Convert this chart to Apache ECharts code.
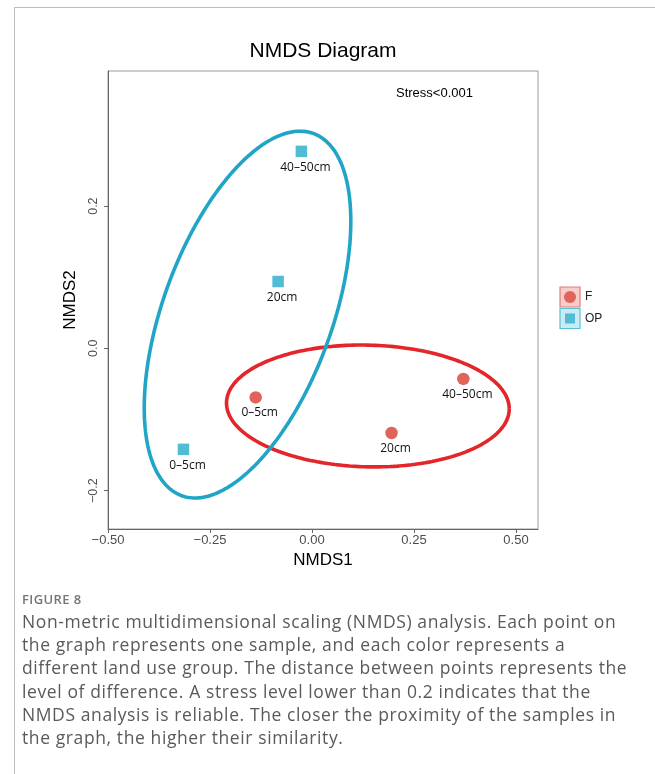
<!DOCTYPE html>
<html>
<head>
<meta charset="utf-8">
<script src="https://cdn.jsdelivr.net/npm/echarts@6/dist/echarts.min.js"></script>
<style>
  html, body { margin: 0; padding: 0; background: #fff; }
  #frame {
    position: absolute; left: 14px; top: 7px; width: 660px; height: 800px;
    border-left: 1.5px solid #bdbdbd; border-top: 1.5px solid #bdbdbd;
  }
  #chart { position: absolute; left: 0; top: 0; width: 655px; height: 774px; }
  #caption {
    position: absolute; left: 22px; top: 590px; width: 633px;
    font-family: "Open Sans", sans-serif; color: #5a5a5a;
  }
  #caption .fig {
    font-size: 13px; font-weight: 600; color: #767676; line-height: 18px;
    letter-spacing: 0.4px;
  }
  #caption .txt {
    font-size: 17.5px; line-height: 23.2px; letter-spacing: 0.6px; margin-top: 2px;
    white-space: nowrap;
  }
</style>
</head>
<body>
<div id="frame"></div>
<div id="chart"></div>
<div id="caption">
  <div class="fig">FIGURE 8</div>
  <div class="txt">Non-metric multidimensional scaling (NMDS) analysis. Each point on<br>the graph represents one sample, and each color represents a<br>different land use group. The distance between points represents the<br>level of difference. A stress level lower than 0.2 indicates that the<br>NMDS analysis is reliable. The closer the proximity of the samples in<br>the graph, the higher their similarity.</div>
</div>
<script>
// NMDS site scores per land-use group
const fLabels = ['0–5cm', '20cm', '40–50cm'];
const fX = [-0.138, 0.195, 0.371];
const fY = [-0.069, -0.119, -0.043];

const opLabels = ['0–5cm', '20cm', '40–50cm'];
const opX = [-0.315, -0.083, -0.026];
const opY = [-0.142, 0.094, 0.277];

// group ellipses: centre and shape matrix [sxx, syy, sxy] in NMDS units
const fEllipseCenter = [0.137, -0.081];
const fEllipseShape = [0.1201, 0.00734, -0.0014];
const opEllipseCenter = [-0.158, 0.0475];
const opEllipseShape = [0.0641, 0.0665, 0.0332];

// axis ticks
const xTicks = [-0.5, -0.25, 0, 0.25, 0.5];
const yTicks = [-0.2, 0, 0.2];

const RED = '#E4262B', BLUE = '#20A5C6';
const RED_PT = '#E0635C', BLUE_PT = '#52BCD5';
const SANS = '"Liberation Sans", Arial, sans-serif';

function ellipsePath(center, shape, n) {
  const a = Math.sqrt(shape[0]);
  const b = shape[2] / a;
  const d = Math.sqrt(shape[1] - b * b);
  const pts = [];
  for (let i = 0; i <= n; i++) {
    const t = 2 * Math.PI * i / n;
    const c = Math.cos(t), s = Math.sin(t);
    pts.push([center[0] + a * c, center[1] + b * c + d * s]);
  }
  return pts;
}

function pointsOf(xs, ys, names) {
  return xs.map((x, i) => ({ value: [x, ys[i]], name: names[i] }));
}

const chart = echarts.init(document.getElementById('chart'), null, { renderer: 'canvas' });
chart.setOption({
  animation: false,
  backgroundColor: 'transparent',
  title: {
    text: 'NMDS Diagram', left: 323, top: 41, padding: 0, textAlign: 'center',
    textStyle: { fontFamily: SANS, fontSize: 21, fontWeight: 'normal', color: '#000' }
  },
  grid: {
    left: 108, right: 117, top: 71, bottom: 245,
    show: true, borderColor: '#9a9a9a', borderWidth: 1,
    containLabel: false, outerBoundsMode: 'none'
  },
  xAxis: {
    type: 'value', min: -0.5, max: 0.554, interval: 0.25,
    name: 'NMDS1', nameLocation: 'middle', nameGap: 20,
    nameTextStyle: { fontFamily: SANS, fontSize: 17, color: '#000' },
    axisLine: { show: true, onZero: false, lineStyle: { color: '#666', width: 1 } },
    axisTick: { show: true, length: 4, customValues: xTicks, lineStyle: { color: '#666' } },
    axisLabel: {
      customValues: xTicks, margin: 5, color: '#4d4d4d', fontFamily: SANS, fontSize: 13,
      formatter: v => (v < 0 ? '\u2212' : '') + Math.abs(v).toFixed(2)
    },
    splitLine: { show: false }
  },
  yAxis: {
    type: 'value', min: -0.254, max: 0.39, interval: 0.2,
    name: 'NMDS2', nameLocation: 'middle', nameGap: 21, nameRotate: 90,
    nameTextStyle: { fontFamily: SANS, fontSize: 17, color: '#000' },
    axisLine: { show: true, onZero: false, lineStyle: { color: '#666', width: 1 } },
    axisTick: { show: true, length: 4, customValues: yTicks, lineStyle: { color: '#666' } },
    axisLabel: {
      customValues: yTicks, rotate: 90, margin: 8, color: '#4d4d4d', fontFamily: SANS, fontSize: 12.5,
      formatter: v => (v < 0 ? '\u2212' : '') + Math.abs(v).toFixed(1)
    },
    splitLine: { show: false }
  },
  series: [
    {
      name: 'F ellipse', type: 'line', data: ellipsePath(fEllipseCenter, fEllipseShape, 240),
      showSymbol: false, symbol: 'none', silent: true, z: 1,
      lineStyle: { color: RED, width: 3.6 }
    },
    {
      name: 'OP ellipse', type: 'line', data: ellipsePath(opEllipseCenter, opEllipseShape, 240),
      showSymbol: false, symbol: 'none', silent: true, z: 1,
      lineStyle: { color: BLUE, width: 3.6 }
    },
    {
      name: 'F', type: 'scatter', symbol: 'circle', symbolSize: 12.5, z: 3,
      data: pointsOf(fX, fY, fLabels),
      itemStyle: { color: RED_PT, opacity: 1 },
      label: {
        show: true, position: 'bottom', distance: 3, offset: [4, 0], formatter: '{b}',
        fontFamily: '"Open Sans", sans-serif', fontSize: 12, color: '#111'
      }
    },
    {
      name: 'OP', type: 'scatter', symbol: 'rect', symbolSize: 11.5, z: 3,
      data: pointsOf(opX, opY, opLabels),
      itemStyle: { color: BLUE_PT, opacity: 1 },
      label: {
        show: true, position: 'bottom', distance: 4, offset: [4, 0], formatter: '{b}',
        fontFamily: '"Open Sans", sans-serif', fontSize: 12, color: '#111'
      }
    }
  ],
  graphic: [
    {
      type: 'text', left: 396, top: 87, silent: true,
      style: { text: 'Stress<0.001', font: '13px ' + SANS, fill: '#000' }
    },
    // legend keys
    { type: 'rect', shape: { x: 560, y: 287, width: 20, height: 20 },
      style: { fill: '#F6CDCA', stroke: '#E27C76', lineWidth: 1.2 } },
    { type: 'circle', shape: { cx: 570, cy: 297, r: 6 }, style: { fill: RED_PT } },
    { type: 'text', x: 585, y: 297,
      style: { text: 'F', font: '12px ' + SANS, fill: '#222', verticalAlign: 'middle' } },
    { type: 'rect', shape: { x: 560, y: 308.5, width: 20, height: 20 },
      style: { fill: '#CBEAF1', stroke: '#58C0D8', lineWidth: 1.2 } },
    { type: 'rect', shape: { x: 565, y: 313.5, width: 10, height: 10 }, style: { fill: BLUE_PT } },
    { type: 'text', x: 585, y: 318.5,
      style: { text: 'OP', font: '12px ' + SANS, fill: '#222', verticalAlign: 'middle' } }
  ]
});
</script>
</body>
</html>
